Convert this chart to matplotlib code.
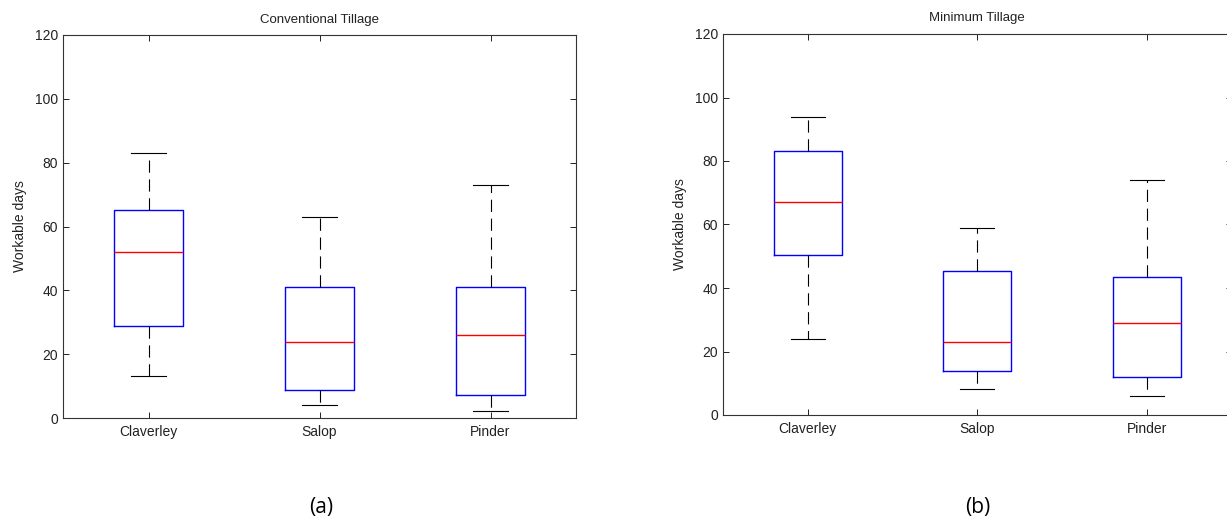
import matplotlib
matplotlib.use("Agg")
import matplotlib.pyplot as plt

sites = ["Claverley", "Salop", "Pinder"]

# five-number summaries: low whisker, Q1, median, Q3, high whisker
conv_low = [13.2, 4.0, 2.1]
conv_q1 = [28.7, 8.9, 7.2]
conv_med = [51.9, 23.9, 26.1]
conv_q3 = [65.2, 41.2, 40.9]
conv_high = [83.0, 63.0, 73.0]

min_low = [23.9, 8.1, 6.1]
min_q1 = [50.5, 14.0, 12.1]
min_med = [67.1, 23.1, 29.0]
min_q3 = [83.3, 45.2, 43.5]
min_high = [94.0, 58.9, 74.1]

yticks = [0, 20, 40, 60, 80, 100, 120]

plt.rcParams['font.family'] = ['Liberation Sans', 'DejaVu Sans']

W, H = 1227, 525
fig = plt.figure(figsize=(W / 100, H / 100), dpi=100)

def make_stats(low, q1, med, q3, high):
    stats = []
    for i in range(len(sites)):
        stats.append(dict(label=sites[i], whislo=low[i], q1=q1[i], med=med[i],
                          q3=q3[i], whishi=high[i], fliers=[]))
    return stats

def draw_panel(ax, stats, title):
    ax.bxp(stats, positions=[1, 2, 3], widths=0.4, showfliers=False,
           boxprops=dict(color='#0000ff', linewidth=1.0),
           medianprops=dict(color='#ff0000', linewidth=1.0),
           whiskerprops=dict(color='black', linewidth=0.8, linestyle=(0, (11, 6))),
           capprops=dict(color='black', linewidth=0.8))
    ax.set_xlim(0.5, 3.5)
    ax.set_ylim(0, 120)
    ax.set_yticks(yticks)
    ax.set_xticks([1, 2, 3])
    ax.set_xticklabels(sites)
    ax.tick_params(direction='in', length=4, width=0.7, labelsize=10,
                   top=True, right=True, colors='#222222')
    ax.tick_params(axis='x', pad=5)
    for s in ax.spines.values():
        s.set_linewidth(0.8)
        s.set_color('#333333')
    ax.set_title(title, fontsize=9.5, pad=9, color='#222222')
    ax.set_ylabel("Workable days", fontsize=10, color='#222222', labelpad=6)

ax1 = fig.add_axes([63 / W, 107 / H, 513 / W, 383 / H])
draw_panel(ax1, make_stats(conv_low, conv_q1, conv_med, conv_q3, conv_high),
           "Conventional Tillage")

ax2 = fig.add_axes([723 / W, 110 / H, 508.5 / W, 381 / H])
draw_panel(ax2, make_stats(min_low, min_q1, min_med, min_q3, min_high),
           "Minimum Tillage")

fig.text(321 / W, 1 - 508 / H, "(a)", ha='center', va='center', fontsize=15,
         family=['Open Sans', 'DejaVu Sans'])
fig.text(978 / W, 1 - 508 / H, "(b)", ha='center', va='center', fontsize=15,
         family=['Open Sans', 'DejaVu Sans'])

fig.savefig("out.png", dpi=100)
